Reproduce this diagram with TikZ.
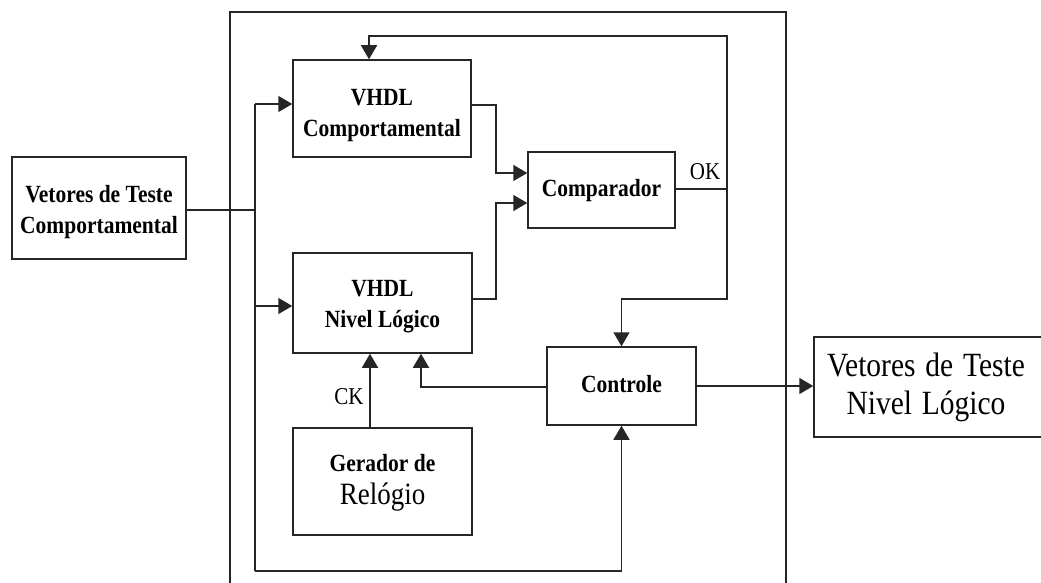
\documentclass[tikz,border=0pt]{standalone}
\usepackage{fontspec}
\usepackage{graphicx}
\setmainfont{Liberation Serif}
\usetikzlibrary{arrows.meta}
\newcommand{\st}[2][0pt]{\raisebox{-#1}[\height][\depth]{\scalebox{1}[1.15]{\begin{tabular}{@{}c@{}}#2\end{tabular}}}}
\tikzset{
  box/.style={draw=black!85, line width=1.5pt, fill=white, inner sep=0pt, font=\fontsize{21.5}{27}\selectfont\bfseries},
  wire/.style={draw=black!85, line width=1.5pt},
  arr/.style={wire, -{Triangle[length=14pt,width=16pt]}},
  lab/.style={inner sep=0pt, font=\fontsize{21}{26}\selectfont}
}
\begin{document}
\begin{tikzpicture}[x=1pt,y=-1pt]
\useasboundingbox (0,0) rectangle (1041,583);
\clip (0,0) rectangle (1041,583);
\fill[white] (0,0) rectangle (1041,583);
% frame
\draw[wire] (230,600) -- (230,12) -- (786,12) -- (786,600);
% blocks
\node[box, minimum width=174pt, minimum height=102pt] (inp) at (99,208) {\st[4pt]{Vetores de Teste\\Comportamental}};
\node[box, minimum width=178pt, minimum height=97pt] (vc) at (382,108.5) {\st[6pt]{VHDL\\Comportamental}};
\node[box, minimum width=147pt, minimum height=76pt] (comp) at (601.5,190) {\st{Comparador}};
\node[box, minimum width=179pt, minimum height=100pt] (vn) at (382.5,303) {\st[3pt]{VHDL\\Nivel Lógico}};
\node[box, minimum width=149pt, minimum height=78pt] (ctrl) at (621.5,386) {\st{Controle}};
\node[box, minimum width=179pt, minimum height=107pt] (ger) at (382.5,481.5) {\st{Gerador de\\[2pt]{\mdseries\fontsize{27}{30}\selectfont Relógio}}};
\node[box, minimum width=230pt, minimum height=100pt, font=\fontsize{29.5}{33}\selectfont, text width=226pt, align=center] (out) at (929,387) {\hspace*{-6pt}\st[1pt]{Vetores de Teste\\Nivel Lógico}};
% labels
\node[lab] (oklbl) at (705,172) {\scalebox{1}[1.15]{OK}};
\node[lab] (cklbl) at (349,397) {\scalebox{1}[1.15]{CK}};
% coordinates
\coordinate (bt) at (255,104);
\coordinate (bm) at (255,210);
\coordinate (bn) at (255,306);
\coordinate (bb) at (255,571);
\coordinate (j1) at (496,105);
\coordinate (y1) at (0,173);
\coordinate (j2) at (496,299);
\coordinate (y2) at (0,203);
\coordinate (ok) at (727,189);
\coordinate (t1) at (727,36);
\coordinate (t2) at (369,36);
\coordinate (r1) at (727,299);
\coordinate (u1) at (421,387);
\coordinate (ck) at (370,0);
% connectors
\draw[wire] (inp.east |- bm) -- (bm);
\draw[wire] (bt) -- (bb);
\draw[arr] (bb) -| (ctrl.south);
\draw[arr] (bt) -- (bt -| vc.west);
\draw[arr] (bn) -- (bn -| vn.west);
\draw[arr] (vc.east |- j1) -- (j1) |- (comp.west |- y1);
\draw[arr] (vn.east |- j2) -- (j2) |- (comp.west |- y2);
\draw[wire] (comp.east |- ok) -- (ok);
\draw[arr] (ok) -- (t1) -- (t2) -- (t2 |- vc.north);
\draw[arr] (ok) -- (r1) -| (ctrl.north);
\draw[arr] (ctrl.west |- u1) -- (u1) -- (u1 |- vn.south);
\draw[arr] (ck |- ger.north) -- (ck |- vn.south);
\draw[arr] (ctrl.east) -- (out.west |- ctrl.east);
\end{tikzpicture}
\end{document}
